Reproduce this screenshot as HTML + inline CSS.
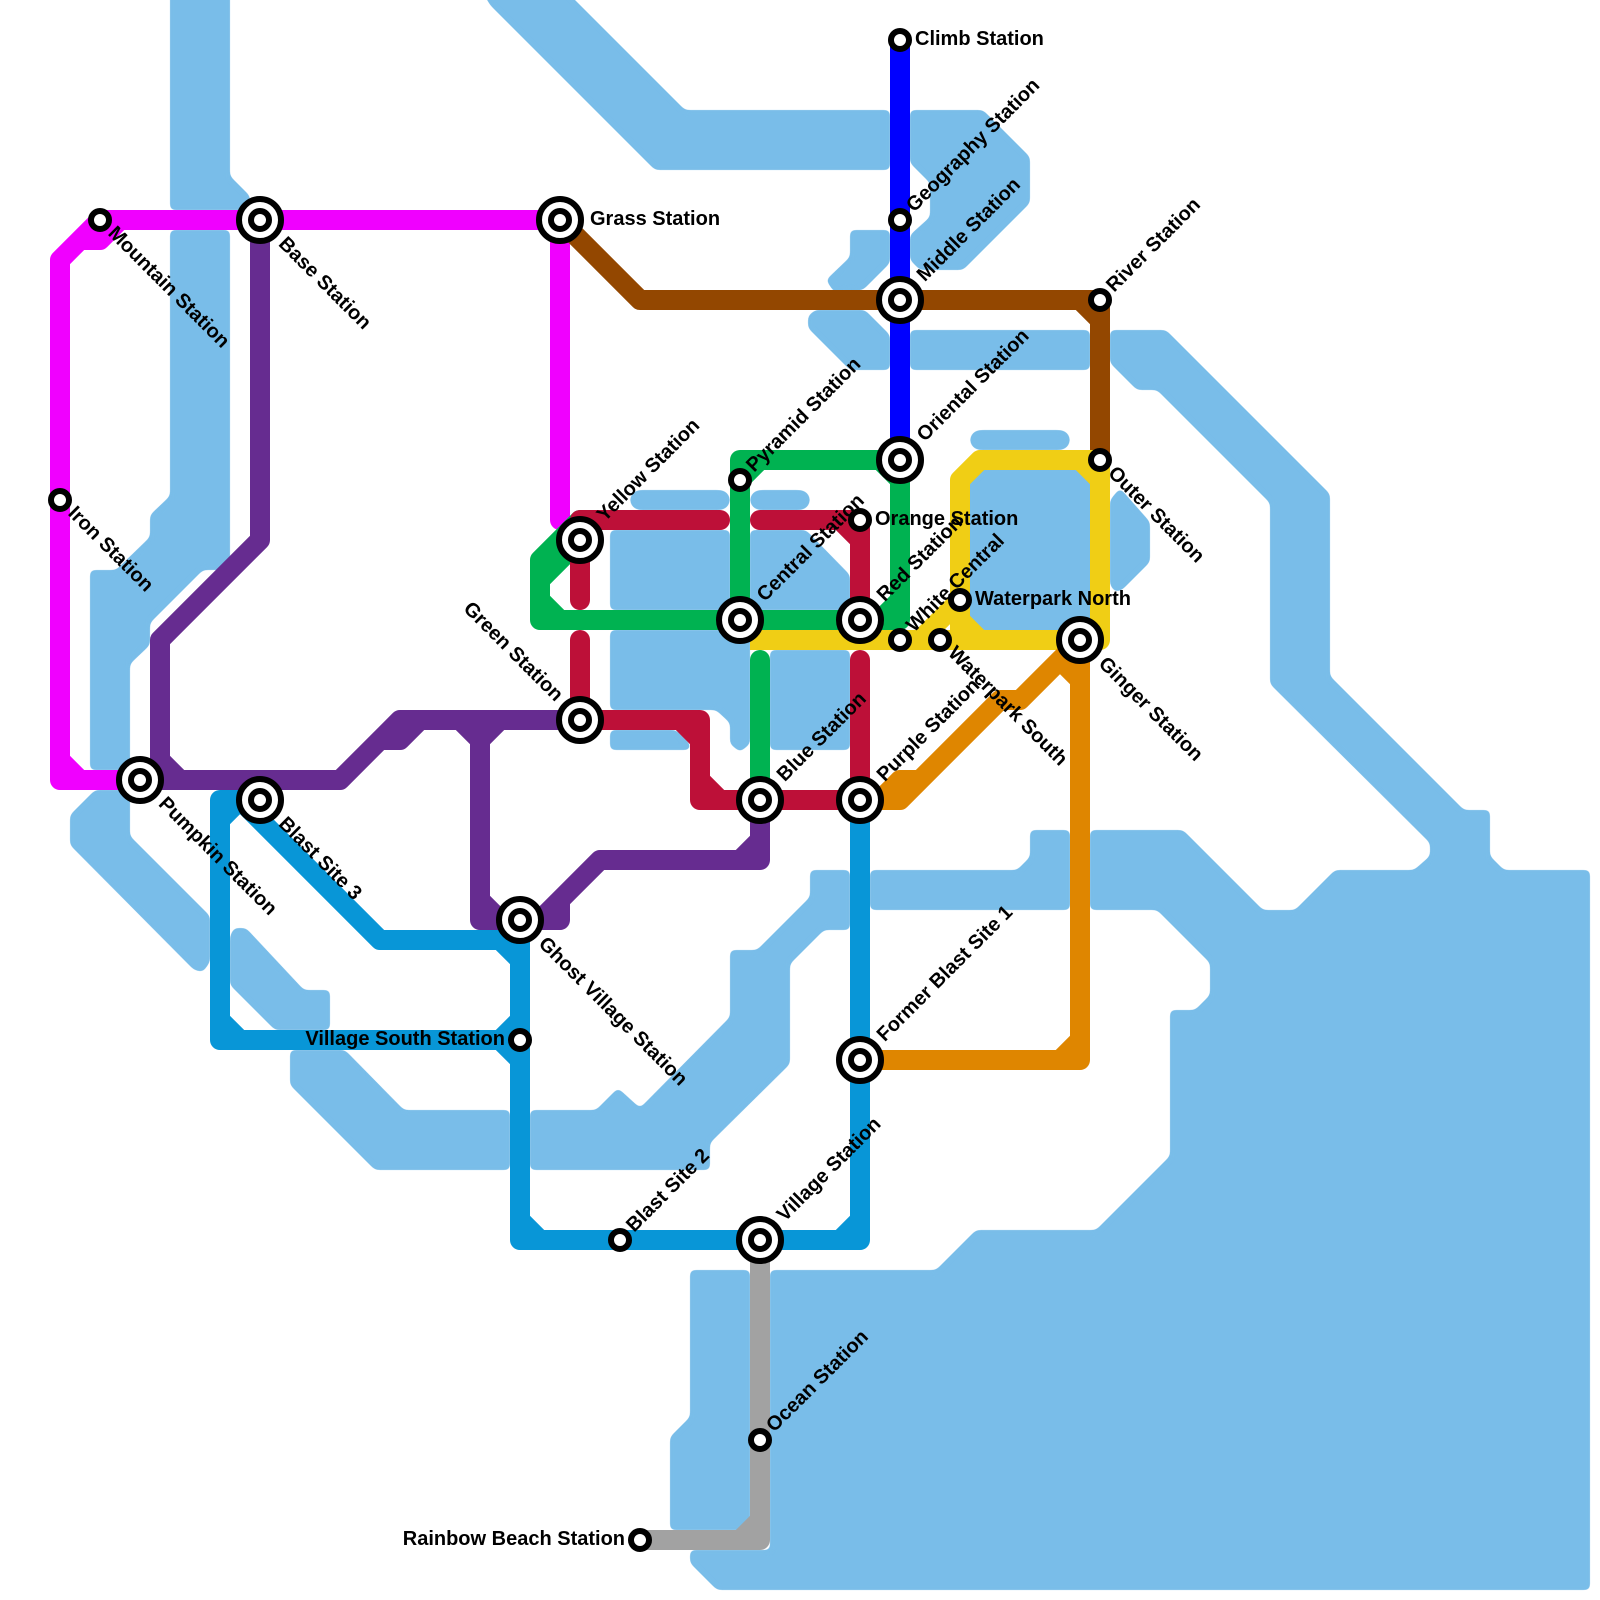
<!DOCTYPE html>
<html><head><meta charset="utf-8"><title>Metro map</title>
<style>
html,body{margin:0;padding:0;background:#fff}
svg{display:block}
text{font-family:"Liberation Sans",Arial,sans-serif;font-weight:700;font-size:20px;fill:#000}
.l path{fill:none;stroke-width:1;stroke-linejoin:round;stroke-linecap:round}
</style></head><body>
<svg xmlns="http://www.w3.org/2000/svg" width="1600" height="1600" viewBox="0 0 1600 1600">
<defs>
<filter id="r" filterUnits="userSpaceOnUse" x="-60" y="-60" width="1720" height="1720" color-interpolation-filters="sRGB">
<feGaussianBlur stdDeviation="3"/>
<feComponentTransfer><feFuncA type="linear" slope="10" intercept="-4.5"/></feComponentTransfer>
</filter>
</defs>
<rect width="1600" height="1600" fill="#fff"/>
<g fill="#79bde9" filter="url(#r)">
<polygon points="170,-30 230,-30 230,176 250,196 250,210 170,210"/>
<polygon points="170,230 230,230 230,570 203,570 150,623 150,645 130,664 130,770 90,770 90,570 116,570 150,537 150,515 170,496"/>
<polygon points="95,790 130,790 130,836 210,916 210,962 203,972 194,970 70,845 70,815"/>
<polygon points="230,936 234,928 246,928 304,990 330,990 330,1030 275,1030 230,985"/>
<polygon points="290,1050 345,1050 404,1110 510,1110 510,1170 375,1170 290,1085"/>
<polygon points="530,1110 596,1110 618,1088 640,1108 730,1017 730,950 757,950 810,897 810,870 850,870 850,930 824,930 790,964 790,1064 710,1143 710,1170 530,1170"/>
<polygon points="870,870 1017,870 1030,857 1030,830 1070,830 1070,910 870,910"/>
<polygon points="1110,330 1166,330 1330,494 1330,676 1464,810 1490,810 1490,856 1504,870 1590,870 1590,1590 717,1590 690,1563 690,1550 770,1550 770,1270 936,1270 976,1230 1096,1230 1170,1156 1170,1010 1195,1010 1210,995 1210,963 1157,910 1090,910 1090,830 1183,830 1263,910 1295,910 1335,870 1414,870 1430,856 1430,843 1270,684 1270,503 1157,390 1137,390 1110,363"/>
<polygon points="690,1270 750,1270 750,1530 670,1530 670,1437 690,1417"/>
<polygon points="470,-30 545,-30 685,110 890,110 890,170 655,170 490,5"/>
<polygon points="910,110 983,110 1030,157 1030,203 963,270 920,270 910,260 910,235 930,217 930,183 910,163"/>
<polygon points="850,230 890,230 890,263 863,290 834,292 826,280 850,257"/>
<polygon points="815,310 865,310 890,335 890,370 850,370 808,328 808,316"/>
<rect x="910" y="330" width="180" height="40"/>
<rect x="970" y="430" width="100" height="20" rx="10"/>
<polygon points="984,468 1076,468 1100,490 1100,640 984,640 968,620 968,484"/>
<polygon points="1110,500 1120,488 1150,522 1150,562 1122,590 1115,592 1110,585"/>
<rect x="630" y="490" width="100" height="20" rx="10"/>
<rect x="750" y="490" width="60" height="20" rx="10"/>
<rect x="610" y="530" width="120" height="80"/>
<polygon points="750,530 806,530 850,575 850,610 750,610"/>
<polygon points="610,630 750,630 750,744 740,752 730,744 730,723 716,710 610,710"/>
<polygon points="610,730 676,730 690,744 690,750 610,750"/>
<rect x="770" y="650" width="80" height="100"/>
</g>
<g class="l" transform="scale(20)">
<g stroke="#f000ff"><path d="M28 26V11H5L3 13V39H7M3 38L4 39M4 12H5L6 11"/></g>
<g stroke="#934700"><path d="M28 11L32 15H55V23M54 15L55 16"/></g>
<g stroke="#0000ff"><path d="M45 2V23"/></g>
<g stroke="#00b251"><path d="M45 23H37V31H27V28L29 26M29 27L27 29M27 30L28 31M37 24L38 23M37 31H45V23M45 30L44 31M44 23L45 24M38 33V40"/></g>
<g stroke="#bd1038"><path d="M36 26H29V30M29 32V36H35V40H43M34 36L35 37M35 39L36 40M38 26H43V31M42 26L43 27M43 33V40"/></g>
<g stroke="#f0ce15"><path d="M37.5 32H55V23H49L48 24V32M46 32L48 30M48 31L49 32M54 23L55 24" style="stroke-linecap:butt"/></g>
<g stroke="#df8600"><path d="M43 40H45L50 35H51L54 32V53H43M44 40L45 39H46M53 33L54 34M53 53L54 52"/></g>
<g stroke="#662c90"><path d="M13 11V27L8 32V39H7M7 39H17L20 36H29M8 38L9 39M19 37H20L21 36M23 36L24 37L25 36M24 36V46H26M24 45L25 46M26 46H28V45M27 46L30 43H38V40M37 43L38 42"/></g>
<g stroke="#0896d7"><path d="M13 40H11V52H26M11 41L12 40M11 51L12 52M12 40L19 47H26V62H43V40M25 47L26 48M26 51L25 52L26 53M26 61L27 62M42 62L43 61"/></g>
<g stroke="#a2a2a2"><path d="M38 62V77H32M37 77L38 76"/></g>
</g>
<g fill="#fff" stroke="#000" stroke-width="6">
<circle cx="260" cy="220" r="21"/><circle cx="260" cy="220" r="9"/>
<circle cx="560" cy="220" r="21"/><circle cx="560" cy="220" r="9"/>
<circle cx="140" cy="780" r="21"/><circle cx="140" cy="780" r="9"/>
<circle cx="260" cy="800" r="21"/><circle cx="260" cy="800" r="9"/>
<circle cx="520" cy="920" r="21"/><circle cx="520" cy="920" r="9"/>
<circle cx="580" cy="540" r="21"/><circle cx="580" cy="540" r="9"/>
<circle cx="580" cy="720" r="21"/><circle cx="580" cy="720" r="9"/>
<circle cx="740" cy="620" r="21"/><circle cx="740" cy="620" r="9"/>
<circle cx="860" cy="620" r="21"/><circle cx="860" cy="620" r="9"/>
<circle cx="900" cy="460" r="21"/><circle cx="900" cy="460" r="9"/>
<circle cx="900" cy="300" r="21"/><circle cx="900" cy="300" r="9"/>
<circle cx="1080" cy="640" r="21"/><circle cx="1080" cy="640" r="9"/>
<circle cx="760" cy="800" r="21"/><circle cx="760" cy="800" r="9"/>
<circle cx="860" cy="800" r="21"/><circle cx="860" cy="800" r="9"/>
<circle cx="860" cy="1060" r="21"/><circle cx="860" cy="1060" r="9"/>
<circle cx="760" cy="1240" r="21"/><circle cx="760" cy="1240" r="9"/>
<circle cx="100" cy="220" r="9"/>
<circle cx="60" cy="500" r="9"/>
<circle cx="520" cy="1040" r="9"/>
<circle cx="740" cy="480" r="9"/>
<circle cx="860" cy="520" r="9"/>
<circle cx="900" cy="40" r="9"/>
<circle cx="900" cy="220" r="9"/>
<circle cx="1100" cy="300" r="9"/>
<circle cx="1100" cy="460" r="9"/>
<circle cx="900" cy="640" r="9"/>
<circle cx="940" cy="640" r="9"/>
<circle cx="960" cy="600" r="9"/>
<circle cx="620" cy="1240" r="9"/>
<circle cx="760" cy="1440" r="9"/>
<circle cx="640" cy="1540" r="9"/>
</g>
<g>
<text x="915" y="45">Climb Station</text>
<text x="875" y="525">Orange Station</text>
<text x="975" y="605">Waterpark North</text>
<text x="590" y="225">Grass Station</text>
<text x="505" y="1045" text-anchor="end">Village South Station</text>
<text x="625" y="1545" text-anchor="end">Rainbow Beach Station</text>

<text transform="translate(100 220) rotate(45)" x="15" y="5">Mountain Station</text>
<text transform="translate(60 500) rotate(45)" x="15" y="5">Iron Station</text>
<text transform="translate(260 220) rotate(45)" x="30" y="5">Base Station</text>
<text transform="translate(140 780) rotate(45)" x="30" y="5">Pumpkin Station</text>
<text transform="translate(260 800) rotate(45)" x="30" y="5">Blast Site 3</text>
<text transform="translate(520 920) rotate(45)" x="30" y="5">Ghost Village Station</text>
<text transform="translate(1100 460) rotate(45)" x="15" y="5">Outer Station</text>
<text transform="translate(1080 640) rotate(45)" x="30" y="5">Ginger Station</text>
<text transform="translate(940 640) rotate(45)" x="15" y="5">Waterpark South</text>
<text transform="translate(580 720) rotate(45)" x="-30" y="5" text-anchor="end">Green Station</text>

<text transform="translate(900 220) rotate(-45)" x="15" y="5">Geography Station</text>
<text transform="translate(900 300) rotate(-45)" x="30" y="5">Middle Station</text>
<text transform="translate(1100 300) rotate(-45)" x="15" y="5">River Station</text>
<text transform="translate(900 460) rotate(-45)" x="30" y="5">Oriental Station</text>
<text transform="translate(740 480) rotate(-45)" x="15" y="5">Pyramid Station</text>
<text transform="translate(580 540) rotate(-45)" x="30" y="5">Yellow Station</text>
<text transform="translate(740 620) rotate(-45)" x="30" y="5">Central Station</text>
<text transform="translate(860 620) rotate(-45)" x="30" y="5">Red Station</text>
<text transform="translate(900 640) rotate(-45)" x="15" y="5">White Central</text>
<text transform="translate(760 800) rotate(-45)" x="30" y="5">Blue Station</text>
<text transform="translate(860 800) rotate(-45)" x="30" y="5">Purple Station</text>
<text transform="translate(860 1060) rotate(-45)" x="30" y="5">Former Blast Site 1</text>
<text transform="translate(760 1240) rotate(-45)" x="30" y="5">Village Station</text>
<text transform="translate(620 1240) rotate(-45)" x="15" y="5">Blast Site 2</text>
<text transform="translate(760 1440) rotate(-45)" x="15" y="5">Ocean Station</text>
</g>
</svg>
</body></html>
